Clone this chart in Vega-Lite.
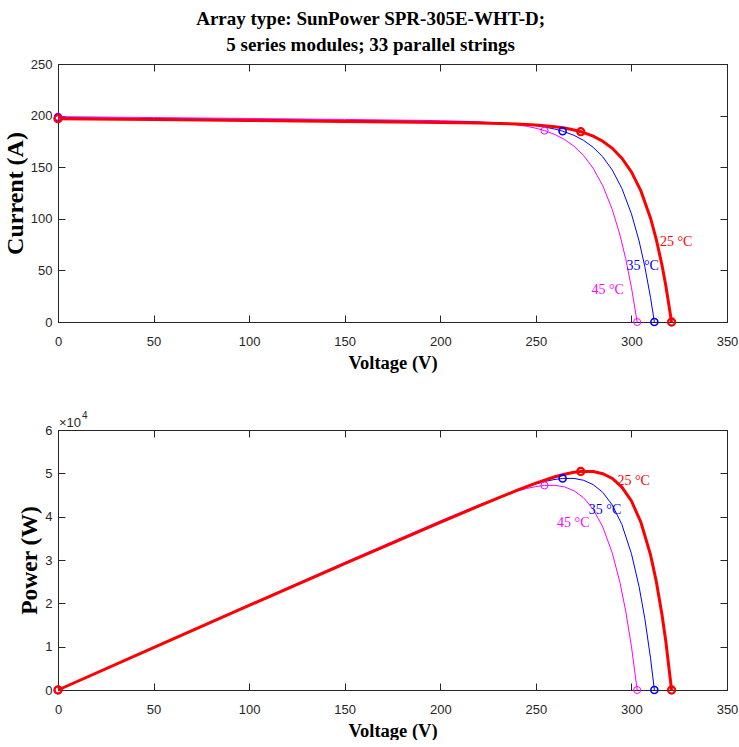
{
  "$schema": "https://vega.github.io/schema/vega-lite/v6.json",
  "background": "white",
  "padding": {"left": 2, "top": 9, "right": 0, "bottom": 0},
  "title": {
    "text": ["Array type: SunPower SPR-305E-WHT-D;", "5 series modules; 33 parallel strings"],
    "font": "Liberation Serif", "fontWeight": "bold", "fontSize": 19, "lineHeight": 26,
    "color": "black", "anchor": "middle", "offset": 3
  },
  "datasets": {
    "curves": [
      {"T": 45, "V": 0, "I": 199.0, "P": 0},
      {"T": 45, "V": 50, "I": 198.1, "P": 9905},
      {"T": 45, "V": 100, "I": 197.2, "P": 19720},
      {"T": 45, "V": 150, "I": 196.3, "P": 29445},
      {"T": 45, "V": 200, "I": 195.12, "P": 39024},
      {"T": 45, "V": 220, "I": 194.04, "P": 42689},
      {"T": 45, "V": 230, "I": 192.97, "P": 44383},
      {"T": 45, "V": 240, "I": 191.12, "P": 45869},
      {"T": 45, "V": 245, "I": 189.7, "P": 46477},
      {"T": 45, "V": 250, "I": 187.78, "P": 46945},
      {"T": 45, "V": 254.5, "I": 185.48, "P": 47205},
      {"T": 45, "V": 260, "I": 181.66, "P": 47232},
      {"T": 45, "V": 265, "I": 176.85, "P": 46865},
      {"T": 45, "V": 270, "I": 170.28, "P": 45976},
      {"T": 45, "V": 275, "I": 161.26, "P": 44347},
      {"T": 45, "V": 280, "I": 148.94, "P": 41703},
      {"T": 45, "V": 285, "I": 132.05, "P": 37634},
      {"T": 45, "V": 290, "I": 108.91, "P": 31584},
      {"T": 45, "V": 294, "I": 84.33, "P": 24793},
      {"T": 45, "V": 297, "I": 61.36, "P": 18224},
      {"T": 45, "V": 300, "I": 33.57, "P": 10071},
      {"T": 45, "V": 303, "I": 0, "P": 0},
      {"T": 35, "V": 0, "I": 198.0, "P": 0},
      {"T": 35, "V": 50, "I": 197.1, "P": 9855},
      {"T": 35, "V": 100, "I": 196.2, "P": 19620},
      {"T": 35, "V": 150, "I": 195.3, "P": 29295},
      {"T": 35, "V": 200, "I": 194.27, "P": 38854},
      {"T": 35, "V": 220, "I": 193.57, "P": 42585},
      {"T": 35, "V": 240, "I": 191.95, "P": 46068},
      {"T": 35, "V": 250, "I": 190.18, "P": 47545},
      {"T": 35, "V": 255, "I": 188.8, "P": 48144},
      {"T": 35, "V": 260, "I": 186.92, "P": 48599},
      {"T": 35, "V": 264, "I": 184.93, "P": 48822},
      {"T": 35, "V": 270, "I": 180.83, "P": 48824},
      {"T": 35, "V": 275, "I": 175.97, "P": 48392},
      {"T": 35, "V": 280, "I": 169.26, "P": 47393},
      {"T": 35, "V": 285, "I": 160.01, "P": 45603},
      {"T": 35, "V": 290, "I": 147.21, "P": 42691},
      {"T": 35, "V": 295, "I": 129.45, "P": 38188},
      {"T": 35, "V": 300, "I": 104.87, "P": 31461},
      {"T": 35, "V": 304, "I": 78.56, "P": 23882},
      {"T": 35, "V": 307, "I": 53.78, "P": 16510},
      {"T": 35, "V": 310, "I": 23.65, "P": 7332},
      {"T": 35, "V": 312, "I": 0, "P": 0},
      {"T": 25, "V": 0, "I": 197.0, "P": 0},
      {"T": 25, "V": 50, "I": 196.1, "P": 9805},
      {"T": 25, "V": 100, "I": 195.2, "P": 19520},
      {"T": 25, "V": 150, "I": 194.3, "P": 29145},
      {"T": 25, "V": 200, "I": 193.35, "P": 38670},
      {"T": 25, "V": 220, "I": 192.83, "P": 42423},
      {"T": 25, "V": 240, "I": 191.88, "P": 46051},
      {"T": 25, "V": 250, "I": 190.93, "P": 47733},
      {"T": 25, "V": 260, "I": 189.24, "P": 49202},
      {"T": 25, "V": 265, "I": 187.91, "P": 49796},
      {"T": 25, "V": 270, "I": 186.08, "P": 50242},
      {"T": 25, "V": 273.5, "I": 184.39, "P": 50431},
      {"T": 25, "V": 280, "I": 180.03, "P": 50408},
      {"T": 25, "V": 285, "I": 175.13, "P": 49912},
      {"T": 25, "V": 290, "I": 168.3, "P": 48807},
      {"T": 25, "V": 295, "I": 158.76, "P": 46834},
      {"T": 25, "V": 300, "I": 145.42, "P": 43626},
      {"T": 25, "V": 305, "I": 126.75, "P": 38659},
      {"T": 25, "V": 310, "I": 100.58, "P": 31180},
      {"T": 25, "V": 313, "I": 80.07, "P": 25062},
      {"T": 25, "V": 316, "I": 55.01, "P": 17383},
      {"T": 25, "V": 318, "I": 35.18, "P": 11187},
      {"T": 25, "V": 321, "I": 0, "P": 0}
    ],
    "pts": [
      {"T": 45, "V": 0, "I": 199.0, "P": 0},
      {"T": 45, "V": 254.5, "I": 185.48, "P": 47205},
      {"T": 45, "V": 303, "I": 0, "P": 0},
      {"T": 35, "V": 0, "I": 198.0, "P": 0},
      {"T": 35, "V": 264, "I": 184.93, "P": 48822},
      {"T": 35, "V": 312, "I": 0, "P": 0},
      {"T": 25, "V": 0, "I": 197.0, "P": 0},
      {"T": 25, "V": 273.5, "I": 184.39, "P": 50431},
      {"T": 25, "V": 321, "I": 0, "P": 0}
    ],
    "labsI": [
      {"T": 25, "V": 314.9, "I": 77.1, "txt": "25 °C"},
      {"T": 35, "V": 297.4, "I": 54.7, "txt": "35 °C"},
      {"T": 45, "V": 279.1, "I": 31.3, "txt": "45 °C"}
    ],
    "labsP": [
      {"T": 25, "V": 292.7, "P": 48118, "txt": "25 °C"},
      {"T": 35, "V": 277.7, "P": 41565, "txt": "35 °C"},
      {"T": 45, "V": 261.1, "P": 38610, "txt": "45 °C"}
    ],
    "mult": [{"V": 0, "P": 60000, "a": "×10", "b": "4"}]
  },
  "vconcat": [
    {
      "width": 669,
      "height": 258,
      "layer": [
        {
          "data": {"name": "curves"},
          "transform": [{"filter": "datum.T == 45"}],
          "mark": {"type": "line", "color": "#ff00ff", "strokeWidth": 1},
          "encoding": {
            "x": {"field": "V", "type": "quantitative", "scale": {"domain": [0, 350], "nice": false, "zero": false},
                  "axis": {"orient": "bottom", "values": [0, 50, 100, 150, 200, 250, 300, 350], "title": "Voltage (V)", "titleFontSize": 18.5, "titlePadding": 5, "labelPadding": 20}},
            "y": {"field": "I", "type": "quantitative", "scale": {"domain": [0, 250], "nice": false, "zero": false},
                  "axis": {"orient": "left", "values": [0, 50, 100, 150, 200, 250], "title": "Current (A)", "titleFontSize": 24, "titlePadding": 3, "labelPadding": 13}}
          }
        },
        {
          "data": {"name": "curves"},
          "transform": [{"filter": "datum.T == 35"}],
          "mark": {"type": "line", "color": "#0000ff", "strokeWidth": 1},
          "encoding": {
            "x": {"field": "V", "type": "quantitative", "axis": null},
            "y": {"field": "I", "type": "quantitative", "axis": null}
          }
        },
        {
          "data": {"name": "curves"},
          "transform": [{"filter": "datum.T == 25"}],
          "mark": {"type": "line", "color": "#ff0000", "strokeWidth": 3},
          "encoding": {
            "x": {"field": "V", "type": "quantitative", "axis": null},
            "y": {"field": "I", "type": "quantitative", "axis": null}
          }
        },
        {
          "data": {"name": "pts"},
          "mark": {"type": "point", "shape": "circle", "filled": false, "size": 50, "opacity": 1},
          "encoding": {
            "x": {"field": "V", "type": "quantitative", "axis": null},
            "y": {"field": "I", "type": "quantitative", "axis": null},
            "color": {"field": "T", "type": "nominal", "scale": {"domain": [25, 35, 45], "range": ["#ff0000", "#0000ff", "#ff00ff"]}, "legend": null},
            "strokeWidth": {"field": "T", "type": "ordinal", "scale": {"domain": [25, 35, 45], "range": [2.2, 1, 1]}, "legend": null}
          }
        },
        {
          "data": {"name": "labsI"},
          "mark": {"type": "text", "font": "Liberation Serif", "fontSize": 14, "align": "left", "baseline": "middle"},
          "encoding": {
            "x": {"field": "V", "type": "quantitative", "axis": null},
            "y": {"field": "I", "type": "quantitative", "axis": null},
            "text": {"field": "txt"},
            "color": {"field": "T", "type": "nominal", "scale": {"domain": [25, 35, 45], "range": ["#ff0000", "#0000ff", "#ff00ff"]}, "legend": null}
          }
        },
        {
          "data": {"name": "pts"},
          "mark": {"type": "point", "opacity": 0},
          "encoding": {
            "x": {"field": "V", "type": "quantitative", "axis": {"orient": "top", "values": [0, 50, 100, 150, 200, 250, 300, 350], "labels": false, "title": null}},
            "y": {"field": "I", "type": "quantitative", "axis": {"orient": "right", "values": [0, 50, 100, 150, 200, 250], "labels": false, "title": null}}
          }
        }
      ],
      "resolve": {"axis": {"x": "independent", "y": "independent"}}
    },
    {
      "width": 669,
      "height": 260,
      "layer": [
        {
          "data": {"name": "curves"},
          "transform": [{"filter": "datum.T == 45"}],
          "mark": {"type": "line", "color": "#ff00ff", "strokeWidth": 1},
          "encoding": {
            "x": {"field": "V", "type": "quantitative", "scale": {"domain": [0, 350], "nice": false, "zero": false},
                  "axis": {"orient": "bottom", "values": [0, 50, 100, 150, 200, 250, 300, 350], "title": "Voltage (V)", "titleFontSize": 18.5, "titlePadding": 5, "labelPadding": 20}},
            "y": {"field": "P", "type": "quantitative", "scale": {"domain": [0, 60000], "nice": false, "zero": false},
                  "axis": {"orient": "left", "values": [0, 10000, 20000, 30000, 40000, 50000, 60000], "labelExpr": "datum.value / 10000", "title": "Power (W)", "titleFontSize": 23.5, "titlePadding": 3, "labelPadding": 13}}
          }
        },
        {
          "data": {"name": "curves"},
          "transform": [{"filter": "datum.T == 35"}],
          "mark": {"type": "line", "color": "#0000ff", "strokeWidth": 1},
          "encoding": {
            "x": {"field": "V", "type": "quantitative", "axis": null},
            "y": {"field": "P", "type": "quantitative", "axis": null}
          }
        },
        {
          "data": {"name": "curves"},
          "transform": [{"filter": "datum.T == 25"}],
          "mark": {"type": "line", "color": "#ff0000", "strokeWidth": 3},
          "encoding": {
            "x": {"field": "V", "type": "quantitative", "axis": null},
            "y": {"field": "P", "type": "quantitative", "axis": null}
          }
        },
        {
          "data": {"name": "pts"},
          "mark": {"type": "point", "shape": "circle", "filled": false, "size": 50, "opacity": 1},
          "encoding": {
            "x": {"field": "V", "type": "quantitative", "axis": null},
            "y": {"field": "P", "type": "quantitative", "axis": null},
            "color": {"field": "T", "type": "nominal", "scale": {"domain": [25, 35, 45], "range": ["#ff0000", "#0000ff", "#ff00ff"]}, "legend": null},
            "strokeWidth": {"field": "T", "type": "ordinal", "scale": {"domain": [25, 35, 45], "range": [2.2, 1, 1]}, "legend": null}
          }
        },
        {
          "data": {"name": "labsP"},
          "mark": {"type": "text", "font": "Liberation Serif", "fontSize": 14, "align": "left", "baseline": "middle"},
          "encoding": {
            "x": {"field": "V", "type": "quantitative", "axis": null},
            "y": {"field": "P", "type": "quantitative", "axis": null},
            "text": {"field": "txt"},
            "color": {"field": "T", "type": "nominal", "scale": {"domain": [25, 35, 45], "range": ["#ff0000", "#0000ff", "#ff00ff"]}, "legend": null}
          }
        },
        {
          "data": {"name": "mult"},
          "mark": {"type": "text", "font": "Liberation Sans", "fontSize": 13, "align": "left", "baseline": "alphabetic", "dx": 1, "dy": -3, "color": "#262626"},
          "encoding": {
            "x": {"field": "V", "type": "quantitative", "axis": null},
            "y": {"field": "P", "type": "quantitative", "axis": null},
            "text": {"field": "a"}
          }
        },
        {
          "data": {"name": "mult"},
          "mark": {"type": "text", "font": "Liberation Sans", "fontSize": 10, "align": "left", "baseline": "alphabetic", "dx": 24, "dy": -11, "color": "#262626"},
          "encoding": {
            "x": {"field": "V", "type": "quantitative", "axis": null},
            "y": {"field": "P", "type": "quantitative", "axis": null},
            "text": {"field": "b"}
          }
        },
        {
          "data": {"name": "pts"},
          "mark": {"type": "point", "opacity": 0},
          "encoding": {
            "x": {"field": "V", "type": "quantitative", "axis": {"orient": "top", "values": [0, 50, 100, 150, 200, 250, 300, 350], "labels": false, "title": null}},
            "y": {"field": "P", "type": "quantitative", "axis": {"orient": "right", "values": [0, 10000, 20000, 30000, 40000, 50000, 60000], "labels": false, "title": null}}
          }
        }
      ],
      "resolve": {"axis": {"x": "independent", "y": "independent"}}
    }
  ],
  "spacing": 108,
  "bounds": "flush",
  "config": {
    "view": {"stroke": "#262626", "strokeWidth": 1},
    "axis": {
      "grid": false, "domainColor": "#262626", "tickColor": "#262626", "labelColor": "#262626",
      "labelFont": "Liberation Sans", "labelFontSize": 13, "titleFont": "Liberation Serif", "titleFontWeight": "bold",
      "titleColor": "black", "tickSize": -7, "labelFlush": false, "labelOverlap": false, "domainWidth": 1, "tickWidth": 1
    }
  }
}
